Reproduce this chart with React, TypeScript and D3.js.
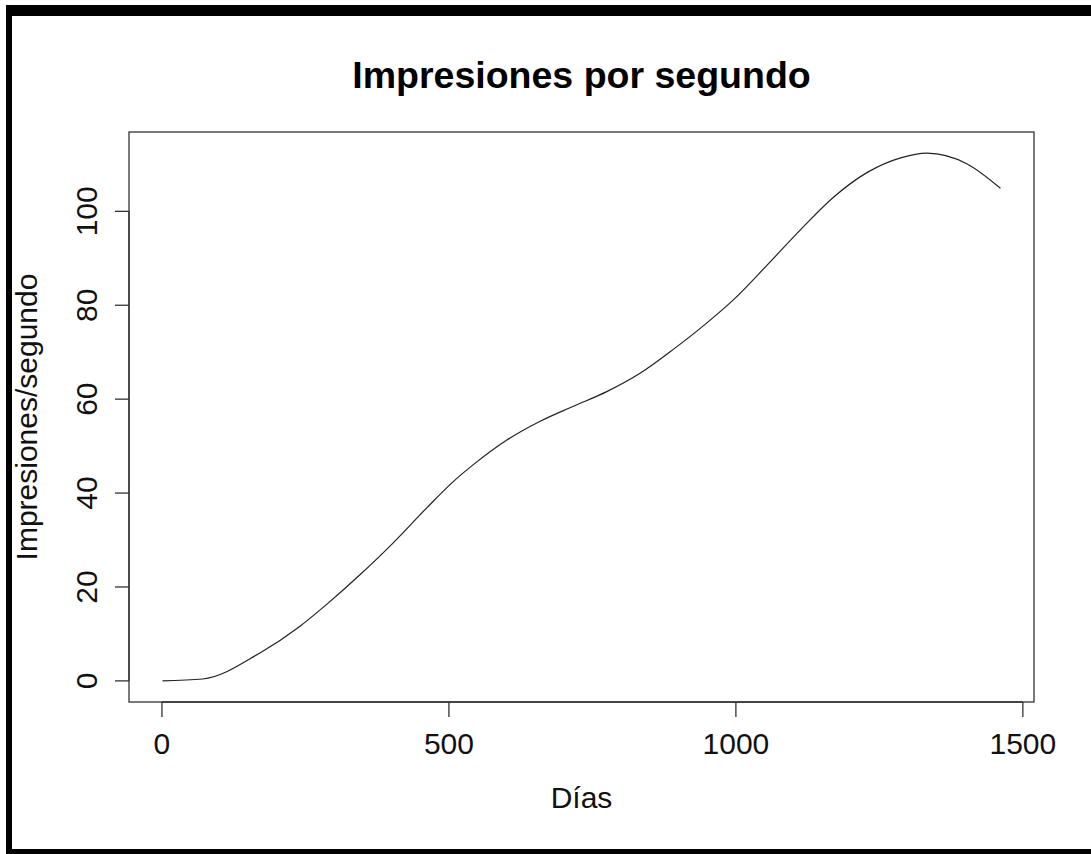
import React from "react";
import * as d3 from "d3";

const days = [1, 71, 170, 240, 287, 345, 403, 461, 508, 542, 601, 659, 717, 775, 833, 891, 950, 996, 1054, 1112, 1170, 1229, 1287, 1333, 1403, 1461];
const values = [0, 0.4, 5.9, 11.6, 16.3, 22.6, 29.4, 36.8, 42.5, 46.0, 51.3, 55.3, 58.5, 61.6, 65.5, 70.6, 76.3, 81.2, 88.5, 96.0, 103.0, 108.3, 111.4, 112.4, 110.1, 104.9];
const xTicks = [0, 500, 1000, 1500];
const yTicks = [0, 20, 40, 60, 80, 100];
const title = "Impresiones por segundo";
const xLabel = "Días";
const yLabel = "Impresiones/segundo";

const W = 1091;
const H = 854;
const left = 129, right = 1034, top = 132, bottom = 702;
const font = "'Liberation Sans', Arial, sans-serif";

export default function App() {
  const xMin = d3.min(days)!, xMax = d3.max(days)!;
  const yMin = d3.min(values)!, yMax = d3.max(values)!;
  const xPad = (xMax - xMin) * 0.04, yPad = (yMax - yMin) * 0.04;
  const x = d3.scaleLinear().domain([xMin - xPad, xMax + xPad]).range([left, right]);
  const y = d3.scaleLinear().domain([yMin - yPad, yMax + yPad]).range([bottom, top]);
  const pts = days.map((d, i) => [d, values[i]] as [number, number]);
  const line = d3.line<[number, number]>().x(d => x(d[0])).y(d => y(d[1])).curve(d3.curveMonotoneX);

  return (
    <svg width={W} height={H} style={{ position: "absolute", left: 0, top: 0, background: "#fff" }}>
      <rect x={0} y={0} width={W} height={H} fill="#fff" />
      <rect x={6} y={5} width={W - 6} height={11} fill="#000" />
      <rect x={6} y={5} width={6} height={H - 5} fill="#000" />
      <rect x={6} y={849} width={W - 6} height={5} fill="#000" />
      <text x={(left + right) / 2} y={88} textAnchor="middle" fontFamily={font} fontWeight="bold" fontSize={37.5} fill="#000">{title}</text>
      <rect x={left} y={top} width={right - left} height={bottom - top} fill="none" stroke="#333" strokeWidth={1.3} />
      <path d={line(pts)!} fill="none" stroke="#222" strokeWidth={1.2} />
      <line x1={x(xTicks[0])} x2={x(xTicks[xTicks.length - 1])} y1={bottom} y2={bottom} stroke="#333" strokeWidth={1.3} />
      {xTicks.map(t => (
        <g key={t}>
          <line x1={x(t)} x2={x(t)} y1={bottom} y2={bottom + 15} stroke="#333" strokeWidth={1.3} />
          <text x={x(t)} y={754} textAnchor="middle" fontFamily={font} fontSize={30} fill="#111">{t}</text>
        </g>
      ))}
      <text x={(left + right) / 2} y={808} textAnchor="middle" fontFamily={font} fontSize={30} fill="#111">{xLabel}</text>
      <line x1={left} x2={left} y1={y(yTicks[0])} y2={y(yTicks[yTicks.length - 1])} stroke="#333" strokeWidth={1.3} />
      {yTicks.map(t => (
        <g key={t}>
          <line x1={left - 14} x2={left} y1={y(t)} y2={y(t)} stroke="#333" strokeWidth={1.3} />
          <text transform={`translate(96.5,${y(t)}) rotate(-90)`} textAnchor="middle" fontFamily={font} fontSize={30} fill="#111">{t}</text>
        </g>
      ))}
      <text transform={`translate(37,${(top + bottom) / 2}) rotate(-90)`} textAnchor="middle" fontFamily={font} fontSize={30} fill="#111">{yLabel}</text>
    </svg>
  );
}
